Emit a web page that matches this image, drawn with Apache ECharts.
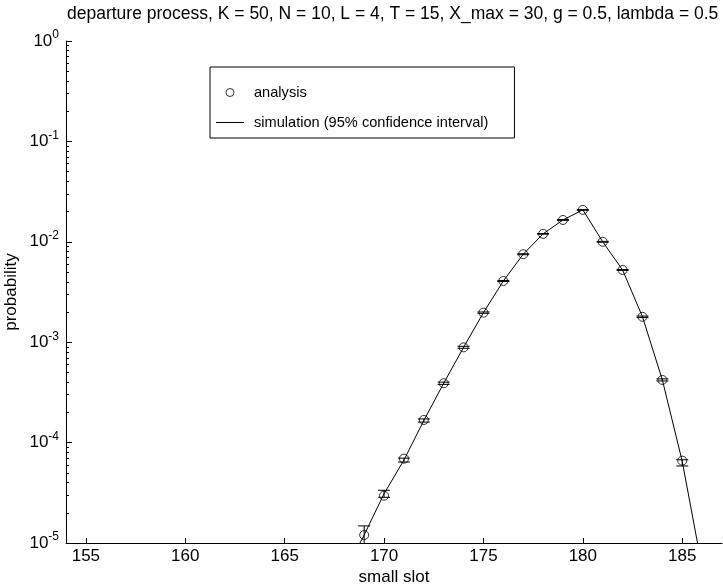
<!DOCTYPE html>
<html><head><meta charset="utf-8">
<script src="https://cdn.jsdelivr.net/npm/echarts@6/dist/echarts.min.js"></script>
<style>html,body{margin:0;padding:0;background:#fff}#c{width:723px;height:588px}</style>
</head><body><div id="c"></div>
<script>
// ---- data ----
const titleText = 'departure process, K = 50, N = 10, L = 4, T = 15, X_max = 30, g = 0.5, lambda = 0.5';
const analysisSlots = [169,170,171,172,173,174,175,176,177,178,179,180,181,182,183,184,185];
const analysisProb  = [1.2e-5,2.96e-5,6.92e-5,1.68e-4,3.9e-4,8.89e-4,1.97e-3,4.07e-3,7.52e-3,1.20e-2,1.65e-2,2.08e-2,1.00e-2,5.24e-3,1.79e-3,4.21e-4,6.61e-5];
const simSlots = [168,169,170,171,172,173,174,175,176,177,178,179,180,181,182,183,184,185,186];
const simMean  = [5.1e-6,1.2e-5,3.1e-5,6.7e-5,1.66e-4,3.9e-4,8.89e-4,1.97e-3,4.07e-3,7.52e-3,1.20e-2,1.65e-2,2.08e-2,1.00e-2,5.24e-3,1.79e-3,4.21e-4,6.5e-5,5.7e-6];
const simLow   = [null,0.92e-5,2.85e-5,6.4e-5,1.60e-4,3.8e-4,8.7e-4,1.94e-3,4.02e-3,7.44e-3,1.19e-2,1.635e-2,2.06e-2,0.99e-2,5.19e-3,1.76e-3,4.11e-4,5.85e-5,null];
const simHigh  = [null,1.48e-5,3.35e-5,7.0e-5,1.72e-4,4.0e-4,9.1e-4,2.0e-3,4.12e-3,7.6e-3,1.21e-2,1.665e-2,2.10e-2,1.01e-2,5.29e-3,1.82e-3,4.31e-4,6.75e-5,null];
const xTicks = [155,160,165,170,175,180,185];
const yMinorTicks = [];
for (let e = -5; e < 0; e++) for (let m = 2; m <= 9; m++) yMinorTicks.push(m * Math.pow(10, e));

// ---- build ----
const FONT = "'Liberation Sans', Arial, sans-serif";
const lineData = simSlots.map((s, i) => [s, simMean[i]]);
const scatterData = analysisSlots.map((s, i) => [s, analysisProb[i]]);
const ciData = simSlots.map((s, i) => [s, simLow[i], simHigh[i]]).filter(d => d[1] != null);
const simName = 'simulation (95% confidence interval)';

const grid = {left: 66, right: 1, top: 41, bottom: 45, outerBoundsMode: 'none', containLabel: false};
const chart = echarts.init(document.getElementById('c'), null, {renderer: 'canvas'});
chart.setOption({
  animation: false,
  backgroundColor: '#fff',
  title: {text: titleText, left: 62, top: 0, textStyle: {fontFamily: FONT, fontSize: 17.5, fontWeight: 'normal', color: '#000'}},
  legend: {
    left: 210, top: 67, orient: 'vertical',
    data: [{name: 'analysis', icon: 'circle', itemStyle: {color: 'rgba(0,0,0,0)', borderColor: '#000', borderWidth: 1}},
           {name: simName, icon: 'path://M0,0H28V1H0Z'}],
    borderColor: '#000', borderWidth: 1, padding: [18, 26, 8, 6], itemGap: 15,
    itemWidth: 28, itemHeight: 8,
    textStyle: {fontFamily: FONT, fontSize: 14.6, color: '#000', padding: [0, 0, 0, 5]}
  },
  grid: [grid, Object.assign({}, grid)],
  xAxis: [{
    type: 'value', min: 154, max: 187, gridIndex: 0,
    name: 'small slot', nameLocation: 'middle', nameGap: 26, nameMoveOverlap: false,
    nameTextStyle: {fontFamily: FONT, fontSize: 17, color: '#000'},
    axisLine: {lineStyle: {color: '#000'}},
    axisTick: {inside: true, length: 5, customValues: xTicks, lineStyle: {color: '#000'}},
    axisLabel: {customValues: xTicks, fontFamily: FONT, fontSize: 17, color: '#000', margin: 5},
    splitLine: {show: false}
  }, {
    type: 'value', min: 154, max: 187, gridIndex: 1, show: false
  }],
  yAxis: [{
    type: 'log', logBase: 10, min: 1e-5, max: 1, gridIndex: 0,
    name: 'probability', nameLocation: 'middle', nameGap: 46, nameMoveOverlap: false,
    nameTextStyle: {fontFamily: FONT, fontSize: 17, color: '#000'},
    axisLine: {show: true, lineStyle: {color: '#000'}},
    axisTick: {inside: true, length: 6, lineStyle: {color: '#000'}},
    axisLabel: {
      margin: 7, fontFamily: FONT, color: '#000',
      formatter: v => '{b|10}{s|' + Math.round(Math.log10(v)) + '}',
      rich: {b: {fontSize: 17, fontFamily: FONT, color: '#000'},
             s: {fontSize: 12, fontFamily: FONT, color: '#000', verticalAlign: 'top', padding: [0, 0, 12, 0]}}
    },
    splitLine: {show: false}
  }, {
    type: 'log', logBase: 10, min: 1e-5, max: 1, gridIndex: 1,
    axisLine: {show: false},
    axisTick: {show: true, inside: true, length: 3, customValues: yMinorTicks, lineStyle: {color: '#000'}},
    axisLabel: {show: false},
    splitLine: {show: false}
  }],
  series: [{
    name: simName, type: 'line', data: lineData,
    symbol: 'none', clip: true, lineStyle: {color: '#000', width: 1}, itemStyle: {color: '#000'}, z: 2
  }, {
    name: 'ci', type: 'custom', data: ciData, clip: true, z: 3,
    encode: {x: 0, y: [1, 2]},
    renderItem: (params, api) => {
      const x = api.value(0), lo = api.value(1), hi = api.value(2);
      const pLo = api.coord([x, lo]), pHi = api.coord([x, hi]);
      const hw = 6, st = {stroke: '#000', lineWidth: 1, fill: null};
      return {type: 'group', children: [
        {type: 'line', shape: {x1: pLo[0], y1: pLo[1], x2: pHi[0], y2: pHi[1]}, style: st},
        {type: 'line', shape: {x1: pLo[0] - hw, y1: pLo[1], x2: pLo[0] + hw, y2: pLo[1]}, style: st},
        {type: 'line', shape: {x1: pHi[0] - hw, y1: pHi[1], x2: pHi[0] + hw, y2: pHi[1]}, style: st}
      ]};
    }
  }, {
    name: 'analysis', type: 'scatter', data: scatterData, symbol: 'circle', symbolSize: 9,
    itemStyle: {color: 'rgba(0,0,0,0)', borderColor: '#000', borderWidth: 1}, z: 4
  }]
});
</script></body></html>
